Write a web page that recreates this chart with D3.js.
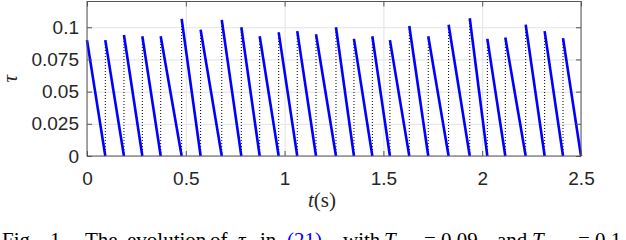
<!DOCTYPE html>
<html>
<head>
<meta charset="utf-8">
<script src="https://cdn.jsdelivr.net/npm/d3@7"></script>
<style>
  body { margin: 0; background: #fff; }
  svg { display: block; }
  .tick-label text { font-family: "Liberation Sans", Arial, Helvetica, sans-serif; font-size: 19px; fill: #262626; }
  .serif { font-family: "Liberation Serif", "Times New Roman", serif; }
</style>
</head>
<body>
<script>
// event times (s) where tau jumps, and the value it jumps to
var jumpTimes = [0, 0.0926, 0.187, 0.280, 0.373, 0.479, 0.575, 0.682, 0.781, 0.874,
                 0.970, 1.064, 1.159, 1.260, 1.351, 1.444, 1.533, 1.631, 1.727, 1.830,
                 1.937, 2.026, 2.117, 2.220, 2.316, 2.409];
var tauPeaks = [0.090, 0.090, 0.094, 0.093, 0.093, 0.1065, 0.098, 0.1057, 0.100, 0.093,
                0.096, 0.097, 0.0946, 0.100, 0.091, 0.093, 0.090, 0.101, 0.093, 0.102,
                0.107, 0.091, 0.092, 0.102, 0.097, 0.0915];
var endTime = 2.5;

var xTicks = [0, 0.5, 1, 1.5, 2, 2.5];
var xTickLabels = ["0", "0.5", "1", "1.5", "2", "2.5"];
var yTicks = [0, 0.025, 0.05, 0.075, 0.1];
var yTickLabels = ["0", "0.025", "0.05", "0.075", "0.1"];

var svgWidth = 626, svgHeight = 240,
    margin = {top: 1.5, left: 87, right: 45, bottom: 84};
var width = svgWidth - margin.left - margin.right,
    height = svgHeight - margin.top - margin.bottom;

var svg = d3.select("body").append("svg")
    .attr("width", svgWidth)
    .attr("height", svgHeight);

var chart = svg.append("g")
    .attr("transform", "translate(" + margin.left + "," + margin.top + ")");

var xScale = d3.scaleLinear().domain([0, 2.5]).range([0, width]);
var yScale = d3.scaleLinear().domain([0, 0.12]).range([height, 0]);

// grid
chart.append("g")
    .attr("class", "grid")
    .call(d3.axisBottom(xScale).tickValues(xTicks).tickSize(height).tickFormat(""))
    .call(g => g.select(".domain").remove())
    .selectAll("line").attr("stroke", "#e3e3e3");
chart.append("g")
    .attr("class", "grid")
    .call(d3.axisLeft(yScale).tickValues(yTicks).tickSize(-width).tickFormat(""))
    .call(g => g.select(".domain").remove())
    .selectAll("line").attr("stroke", "#e3e3e3");

// segments: tau drops from its peak to zero until the next event
var segments = jumpTimes.map((t, i) => ({
  t0: t,
  t1: i < jumpTimes.length - 1 ? jumpTimes[i + 1] : endTime,
  peak: tauPeaks[i]
}));

// dotted jumps
chart.selectAll(".jump")
    .data(segments.slice(1))
  .enter().append("line")
    .attr("class", "jump")
    .attr("x1", d => xScale(d.t0))
    .attr("x2", d => xScale(d.t0))
    .attr("y1", yScale(0))
    .attr("y2", d => yScale(d.peak))
    .attr("stroke", "#000")
    .attr("stroke-width", 1)
    .attr("stroke-dasharray", "1,2");

// blue ramps
chart.selectAll(".ramp")
    .data(segments)
  .enter().append("line")
    .attr("class", "ramp")
    .attr("x1", d => xScale(d.t0))
    .attr("y1", d => yScale(d.peak))
    .attr("x2", d => xScale(d.t1))
    .attr("y2", yScale(0))
    .attr("stroke", "#0000ff")
    .attr("stroke-width", 2.6);

// box
chart.append("rect")
    .attr("width", width)
    .attr("height", height)
    .attr("fill", "none")
    .attr("stroke", "#555");

// inward ticks on all four sides
var tickLen = 5;
[
  [d3.axisBottom(xScale).tickValues(xTicks), "translate(0," + height + ")"],
  [d3.axisTop(xScale).tickValues(xTicks), "translate(0,0)"],
  [d3.axisLeft(yScale).tickValues(yTicks), "translate(0,0)"],
  [d3.axisRight(yScale).tickValues(yTicks), "translate(" + width + ",0)"]
].forEach(function (a) {
  chart.append("g")
      .attr("transform", a[1])
      .call(a[0].tickSize(-tickLen).tickFormat(""))
      .call(g => g.select(".domain").remove())
      .selectAll("line").attr("stroke", "#555");
});

// tick labels
chart.append("g")
    .attr("class", "tick-label")
    .attr("transform", "translate(0," + height + ")")
    .call(d3.axisBottom(xScale).tickValues(xTicks).tickSize(0).tickPadding(16)
      .tickFormat((d, i) => xTickLabels[i]))
    .call(g => g.select(".domain").remove());

chart.append("g")
    .attr("class", "tick-label")
    .call(d3.axisLeft(yScale).tickValues(yTicks).tickSize(0).tickPadding(8)
      .tickFormat((d, i) => yTickLabels[i]))
    .call(g => g.select(".domain").remove());

// axis labels
var xlab = chart.append("text")
    .attr("class", "serif")
    .attr("x", width / 2 - 12)
    .attr("y", height + 51)
    .attr("text-anchor", "middle")
    .attr("font-size", 21)
    .attr("fill", "#262626");
xlab.append("tspan").attr("font-style", "italic").text("t");
xlab.append("tspan").text("(s)");

chart.append("text")
    .attr("class", "serif")
    .attr("transform", "translate(" + (-margin.left + 17) + "," + (height / 2) + ") rotate(-90)")
    .attr("text-anchor", "middle")
    .attr("font-size", 21)
    .attr("font-style", "italic")
    .attr("fill", "#262626")
    .text("τ");

// caption (cut off by the bottom edge, as in the source figure); justified words
var cap = svg.append("text")
    .attr("class", "serif")
    .attr("y", 247)
    .attr("font-size", 21)
    .attr("fill", "#000");
cap.append("tspan").attr("x", 2).text("Fig.");
cap.append("tspan").attr("x", 50).text("1.");
cap.append("tspan").attr("x", 85).text("The");
cap.append("tspan").attr("x", 127).text("evolution");
cap.append("tspan").attr("x", 210).text("of");
cap.append("tspan").attr("x", 238).attr("font-style", "italic").text("τ");
cap.append("tspan").attr("x", 260).text("in");
cap.append("tspan").attr("x", 287).attr("fill", "#0000ff").text("(21)");
cap.append("tspan").attr("x", 343).text("with");
cap.append("tspan").attr("x", 384).attr("font-style", "italic").text("T");
cap.append("tspan").attr("font-size", 14).attr("dy", 5).text("min");
cap.append("tspan").attr("x", 424).attr("dy", -5).text("= 0.09");
cap.append("tspan").attr("x", 497).text("and");
cap.append("tspan").attr("x", 532).attr("font-style", "italic").text("T");
cap.append("tspan").attr("font-size", 14).attr("dy", 5).text("max");
cap.append("tspan").attr("x", 578).attr("dy", -5).text("= 0.1");
</script>
</body>
</html>
